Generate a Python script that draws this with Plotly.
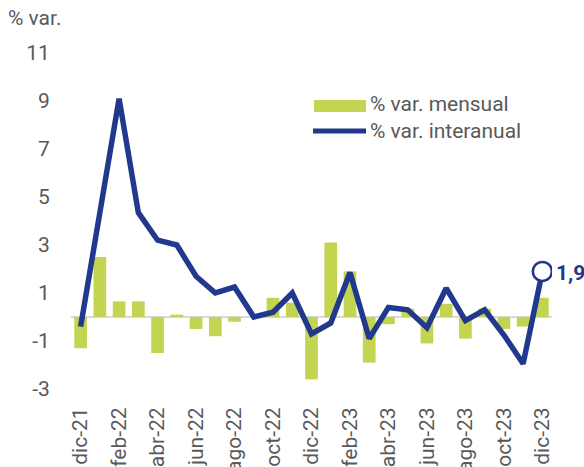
import plotly.graph_objects as go

categories = ["dic-21", "ene-22", "feb-22", "mar-22", "abr-22", "may-22", "jun-22", "jul-22",
              "ago-22", "sep-22", "oct-22", "nov-22", "dic-22", "ene-23", "feb-23", "mar-23",
              "abr-23", "may-23", "jun-23", "jul-23", "ago-23", "sep-23", "oct-23", "nov-23", "dic-23"]

mensual = [-1.3, 2.5, 0.65, 0.65, -1.5, 0.1, -0.5, -0.8, -0.2, 0.0, 0.8, 0.6,
           -2.6, 3.1, 1.9, -1.9, -0.3, 0.35, -1.1, 0.55, -0.9, 0.35, -0.5, -0.4, 0.8]

interanual = [-0.4, 4.4, 9.1, 4.35, 3.2, 3.0, 1.7, 1.0, 1.25, 0.0, 0.2, 1.0,
              -0.7, -0.25, 1.85, -0.9, 0.4, 0.3, -0.45, 1.2, -0.15, 0.3, -0.75, -1.95, 1.9]

xtick_labels = categories[::2]
ytick_vals = [-3, -1, 1, 3, 5, 7, 9, 11]
ytick_text = [str(v) for v in ytick_vals]

GREEN = "#C3D550"
BLUE = "#21388C"
GRAY = "#595959"
FONT = "Roboto"
FS = 21

W, H = 584, 467
ML, MR, MT, MB = 71, 32, 53, 78
pw = W - ML - MR
ph = H - MT - MB


def px(x):
    return (x - ML) / pw


def py(y):
    return (H - MB - y) / ph


fig = go.Figure()
fig.add_trace(go.Bar(x=categories, y=mensual, marker=dict(color=GREEN, line=dict(width=0)),
                     width=0.66, name="% var. mensual", showlegend=False))
fig.add_trace(go.Scatter(x=categories, y=interanual, mode="lines",
                         line=dict(color=BLUE, width=5.5), name="% var. interanual",
                         showlegend=False))
fig.add_trace(go.Scatter(x=[categories[-1]], y=[interanual[-1]], mode="markers",
                         marker=dict(size=19, color="white", line=dict(color=BLUE, width=2.5)),
                         showlegend=False, hoverinfo="skip"))

last_label = f"{interanual[-1]:.1f}".replace(".", ",")
fig.add_annotation(x=categories[-1], y=interanual[-1], xref="x", yref="y", text=f"<b>{last_label}</b>",
                   showarrow=False, xanchor="left", yanchor="middle", xshift=12, yshift=-2,
                   font=dict(family=FONT, size=FS, color=BLUE))

# y-axis title
fig.add_annotation(x=px(6), y=py(18), xref="paper", yref="paper", text="% var.", showarrow=False,
                   xanchor="left", yanchor="middle", font=dict(family=FONT, size=FS, color=GRAY))

# custom legend
fig.add_shape(type="rect", xref="paper", yref="paper", x0=px(314), x1=px(366), y0=py(112), y1=py(100),
              fillcolor=GREEN, line=dict(width=0))
fig.add_shape(type="line", xref="paper", yref="paper", x0=px(313), x1=px(366), y0=py(131), y1=py(131),
              line=dict(color=BLUE, width=5))
fig.add_annotation(x=px(368), y=py(104), xref="paper", yref="paper", text="% var. mensual", showarrow=False,
                   xanchor="left", yanchor="middle", font=dict(family=FONT, size=FS, color=GRAY))
fig.add_annotation(x=px(368), y=py(131), xref="paper", yref="paper", text="% var. interanual",
                   showarrow=False, xanchor="left", yanchor="middle",
                   font=dict(family=FONT, size=FS, color=GRAY))

fig.update_layout(
    width=W, height=H,
    margin=dict(l=ML, r=MR, t=MT, b=MB, pad=0, autoexpand=False),
    plot_bgcolor="white", paper_bgcolor="white",
    font=dict(family=FONT, size=FS, color=GRAY),
    showlegend=False,
    bargap=0.34,
)
fig.update_xaxes(type="category", categoryorder="array", categoryarray=categories,
                 range=[-0.5, len(categories) - 0.5], automargin=False,
                 tickmode="array", tickvals=xtick_labels, ticktext=xtick_labels,
                 tickangle=-90, showgrid=False, showline=False, zeroline=False,
                 ticks="outside", ticklen=9, tickcolor="rgba(0,0,0,0)",
                 tickfont=dict(family=FONT, size=FS, color=GRAY))
fig.update_yaxes(range=[-3, 11], tickmode="array", tickvals=ytick_vals, ticktext=ytick_text,
                 automargin=False,
                 showgrid=False, showline=False, zeroline=True, zerolinecolor="#D9D9D9",
                 zerolinewidth=2, ticks="outside", ticklen=16, tickcolor="rgba(0,0,0,0)",
                 tickfont=dict(family=FONT, size=FS, color=GRAY))

fig.write_html("out.html", config={"displayModeBar": False},
               post_script="document.body.style.margin='0';document.body.style.padding='0';")
